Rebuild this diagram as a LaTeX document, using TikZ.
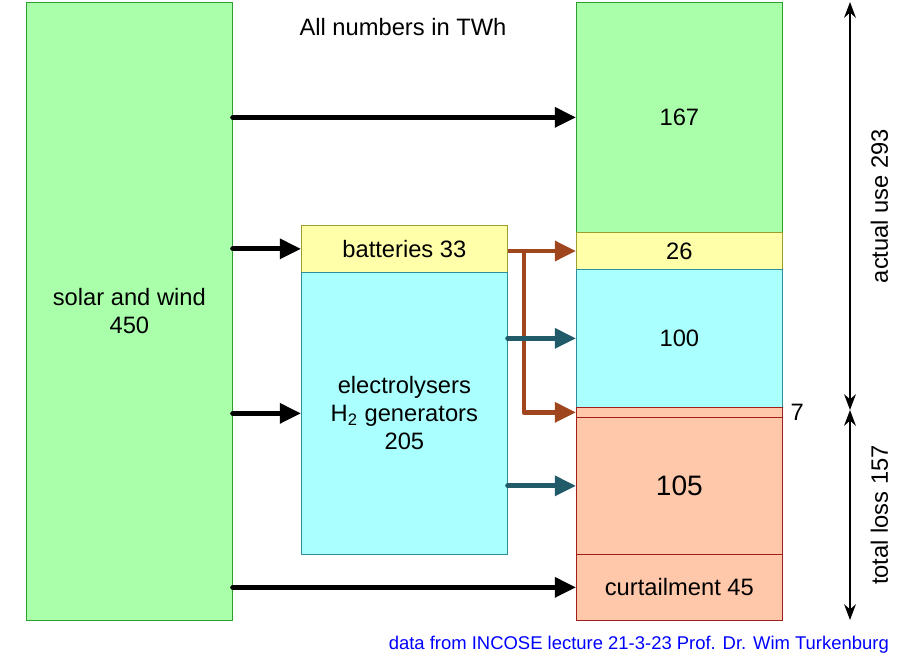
\documentclass[tikz,border=0pt]{standalone}
\usepackage{fontspec}
\setmainfont{Liberation Sans}
\usetikzlibrary{arrows.meta,positioning}
\definecolor{boxgreen}{HTML}{AAFFAA}
\definecolor{linegreen}{HTML}{2E9E2E}
\definecolor{boxyellow}{HTML}{FFFFAA}
\definecolor{lineyellow}{HTML}{9E9E2E}
\definecolor{boxcyan}{HTML}{AAFFFF}
\definecolor{linecyan}{HTML}{2E8E9E}
\definecolor{boxsalmon}{HTML}{FFC8AA}
\definecolor{linesalmon}{HTML}{A01E1E}
\definecolor{flowbrown}{HTML}{A0461E}
\definecolor{flowteal}{HTML}{215A69}
\begin{document}
\begin{tikzpicture}[x=0.02cm,y=-0.02cm]
		\newcommand{\colw}{206} % width of the columns
		\newcommand{\px}{0.02cm}

		% set the styles of the boxes and flows
		\tikzset{
			blk/.style={
				draw,
				anchor=north west,
				inner sep=0pt,
				minimum width=\colw*\px,
				align=center,
				font=\fontsize{13.5}{16}\selectfont
				},
			flow/.style={
				line width=2.8pt,
				line cap=round,
				-{Triangle[length=12pt,width=11pt]}
				}
		}
		\useasboundingbox (0,0) rectangle (920,660);

		% source
		\node[blk, fill=boxgreen, draw=linegreen, minimum height=618*\px] (sw) at (26,2) {solar and wind\\450};
		\node[font=\fontsize{13.5}{16}\selectfont] (title) at (403,27) {All numbers in TWh};

		% storage
		\node[blk, fill=boxyellow, draw=lineyellow, minimum height=47*\px] (bat) at (301,225) {batteries 33};
		\node[blk, fill=boxcyan, draw=linecyan, minimum height=282*\px] (el) at (301,272) {electrolysers\\H\textsubscript{2} generators\\205};

		% use and loss
		\node[blk, fill=boxgreen, draw=linegreen, minimum height=230*\px] (u167) at (576,2) {167};
		\node[blk, fill=boxyellow, draw=lineyellow, minimum height=37*\px] (u26) at (576,232) {26};
		\node[blk, fill=boxcyan, draw=linecyan, minimum height=138*\px] (u100) at (576,269) {100};
		\node[blk, fill=boxsalmon, draw=linesalmon, minimum height=10*\px] (l7) at (576,407) {};
		\node[blk, fill=boxsalmon, draw=linesalmon, minimum height=137*\px, font=\fontsize{16}{19}\selectfont] (l105) at (576,417) {105};
		\node[blk, fill=boxsalmon, draw=linesalmon, minimum height=66*\px] (cur) at (576,554) {curtailment 45};
		\node[right=1pt of l7.east, font=\fontsize{13.5}{16}\selectfont] (n7) {7};

		% black flows
		\draw[flow] (sw.east |- u167) -- (u167.west);
		\draw[flow] (sw.east |- bat) -- (bat.west);
		\draw[flow] (sw.east |- el) -- (el.west);
		\draw[flow] (sw.east |- cur) -- (cur.west);

		% battery flows
		\coordinate (br) at (524,251);
		\draw[flow, flowbrown, line cap=butt] (bat.east |- br) -- (br -| u26.west);
		\draw[flow, flowbrown, line cap=butt, line join=round] (br) -- (br |- l7) -- (l7.west);

		% hydrogen flows
		\draw[flow, flowteal] (el.east |- u100) -- (u100.west);
		\draw[flow, flowteal] (el.east |- l105) -- (l105.west);

		% totals
		\coordinate (t0) at (850,2);
		\coordinate (t1) at (850,410);
		\coordinate (t2) at (850,620);
		\draw[{Stealth[length=9pt]}-{Stealth[length=9pt]}, thick] (t0) -- (t1) node[midway, right=8pt, rotate=90, anchor=north, font=\fontsize{13.5}{16}\selectfont] {actual use 293};
		\draw[{Stealth[length=9pt]}-{Stealth[length=9pt]}, thick] (t1) -- (t2) node[midway, right=8pt, rotate=90, anchor=north, font=\fontsize{13.5}{16}\selectfont] {total loss 157};

		% source note
		\node[anchor=east, text=blue, font=\fontsize{10.5}{12}\selectfont] (note) at (895,645) {data from INCOSE lecture 21-3-23 Prof. Dr. Wim Turkenburg};
\end{tikzpicture}
\end{document}
